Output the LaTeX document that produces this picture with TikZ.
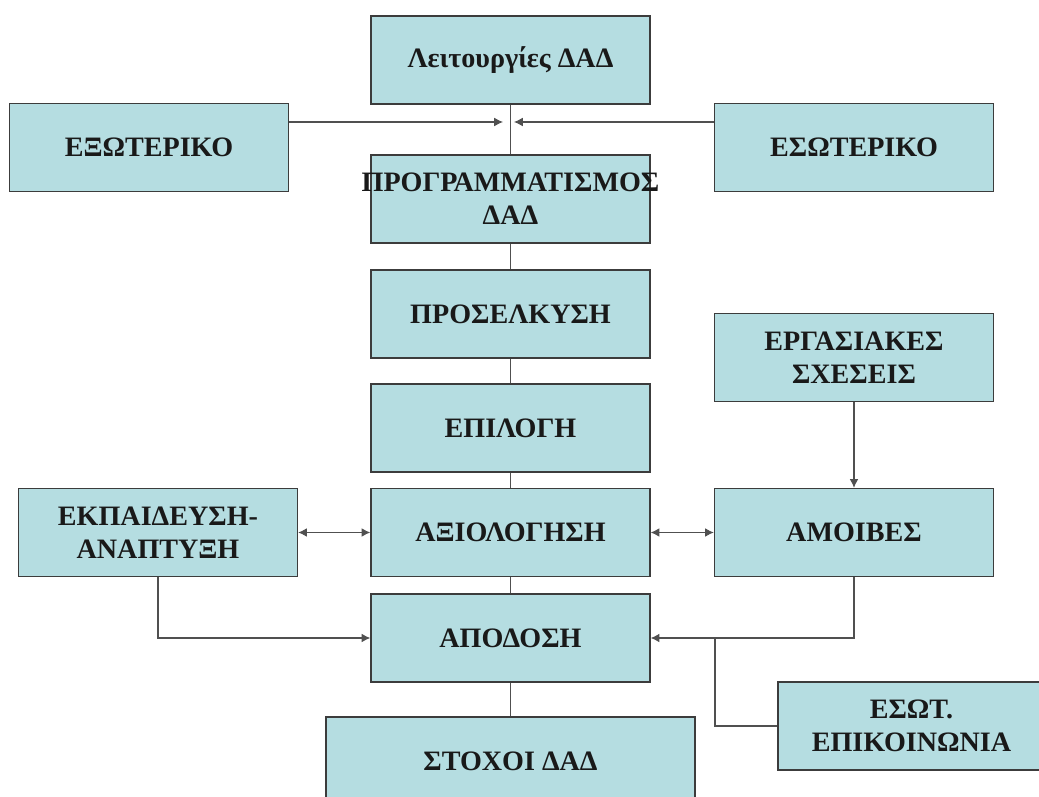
\documentclass[tikz,border=0pt]{standalone}
\usepackage{fontspec}
\setmainfont{Liberation Serif}
\usetikzlibrary{arrows.meta}
\definecolor{boxfill}{HTML}{B5DDE1}
\definecolor{boxline}{HTML}{3C3C3C}
\definecolor{wire}{HTML}{505050}

\begin{document}
\begin{tikzpicture}[x=0.02cm,y=-0.02cm,
  box/.style={draw=boxline,line width=0.8pt,fill=boxfill,text=black!90,
    minimum width=5.58cm,minimum height=1.76cm,inner sep=0pt,align=center,
    font=\fontsize{16}{19}\selectfont\bfseries},
  link/.style={draw=wire,line width=0.6pt},
  arr/.style={link,-{Latex[length=5pt,width=5pt]}},
  arrs/.style={link,{Latex[length=5pt,width=5pt]}-{Latex[length=5pt,width=5pt]}}]
  \useasboundingbox (0,0) rectangle (1039,797);
  \node[box] (func) at (510.5,60) {Λειτουργίες ΔΑΔ};
  \node[box] (ext) at (149,147.5) {ΕΞΩΤΕΡΙΚΟ};
  \node[box] (int) at (854,147.5) {ΕΣΩΤΕΡΙΚΟ};
  \node[box] (plan) at (510.5,199) {\makebox[0pt]{ΠΡΟΓΡΑΜΜΑΤΙΣΜΟΣ}\\ΔΑΔ};
  \node[box] (recr) at (510.5,314) {ΠΡΟΣΕΛΚΥΣΗ};
  \node[box] (rel) at (854,357.5) {ΕΡΓΑΣΙΑΚΕΣ\\ΣΧΕΣΕΙΣ};
  \node[box] (sel) at (510.5,428) {ΕΠΙΛΟΓΗ};
  \node[box] (train) at (158,532.5) {ΕΚΠΑΙΔΕΥΣΗ-\\ΑΝΑΠΤΥΞΗ};
  \node[box] (eval) at (510.5,532.5) {ΑΞΙΟΛΟΓΗΣΗ};
  \node[box] (pay) at (854,532.5) {ΑΜΟΙΒΕΣ};
  \node[box] (perf) at (510.5,638) {ΑΠΟΔΟΣΗ};
  \node[box,minimum width=5.34cm] (comm) at (911.5,726) {ΕΣΩΤ.\\ΕΠΙΚΟΙΝΩΝΙΑ};
  \node[box,minimum width=7.38cm] (goals) at (510.5,761) {ΣΤΟΧΟΙ ΔΑΔ};
  \coordinate (inl) at (503,122);
  \coordinate (inr) at (514,122);
  \coordinate (join) at (715,638);
  \draw[link] (func.south) -- (plan.north);
  \draw[arr] (ext.east |- inl) -- (inl);
  \draw[arr] (int.west |- inr) -- (inr);
  \draw[link] (plan.south) -- (recr.north);
  \draw[link] (recr.south) -- (sel.north);
  \draw[link] (sel.south) -- (eval.north);
  \draw[link] (eval.south) -- (perf.north);
  \draw[link] (perf.south) -- (goals.north);
  \draw[arr] (rel.south) -- (pay.north);
  \draw[arrs] (train.east) -- (eval.west);
  \draw[arrs] (eval.east) -- (pay.west);
  \draw[arr] (train.south) |- (perf.west);
  \draw[arr] (pay.south) |- (perf.east);
  \draw[link] (comm.west) -| (join);
\end{tikzpicture}
\end{document}
